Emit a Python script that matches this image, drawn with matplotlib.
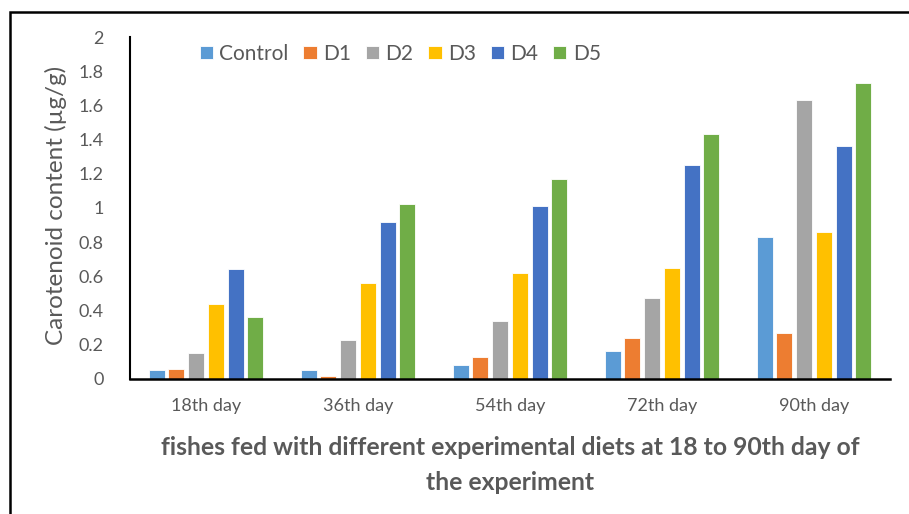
import numpy as np
import matplotlib
matplotlib.use('Agg')
import matplotlib.pyplot as plt
from matplotlib.patches import Rectangle

days = ['18th day', '36th day', '54th day', '72th day', '90th day']
diets = ['Control', 'D1', 'D2', 'D3', 'D4', 'D5']
control = [0.05, 0.05, 0.08, 0.16, 0.83]
d1 = [0.06, 0.015, 0.13, 0.24, 0.27]
d2 = [0.15, 0.23, 0.34, 0.47, 1.63]
d3 = [0.44, 0.56, 0.62, 0.65, 0.86]
d4 = [0.64, 0.92, 1.01, 1.25, 1.36]
d5 = [0.36, 1.02, 1.17, 1.43, 1.73]
colors = ['#5B9BD5', '#ED7D31', '#A5A5A5', '#FFC000', '#4472C4', '#70AD47']

plt.rcParams['font.family'] = ['Lato', 'DejaVu Sans']
grey = '#595959'

fig = plt.figure(figsize=(9.09, 5.14), dpi=100)
ax = fig.add_axes([0.143, 0.263, 0.836, 0.665])

x = np.arange(len(days))
step = 0.13
width = 0.105
for i, (name, vals) in enumerate(zip(diets, [control, d1, d2, d3, d4, d5])):
    offs = (i - 2.5) * step
    ax.bar(x + offs, vals, width, color=colors[i], label=name,
           edgecolor='white', linewidth=0.6)

ax.set_xlim(-0.5, 4.5)
ax.set_ylim(0, 2)
ax.set_yticks(np.arange(0, 2.01, 0.2))
ax.set_yticklabels(['0', '0.2', '0.4', '0.6', '0.8', '1', '1.2', '1.4', '1.6', '1.8', '2'])
ax.set_xticks(x)
ax.set_xticklabels(days)
ax.tick_params(axis='both', length=0, labelsize=13, colors=grey)
ax.tick_params(axis='y', pad=19)
ax.tick_params(axis='x', pad=14)

for s in ['top', 'right']:
    ax.spines[s].set_visible(False)
ax.spines['left'].set_linewidth(1.5)
ax.spines['bottom'].set_linewidth(1.8)

ax.set_ylabel('Carotenoid content (µg/g)', fontsize=17.5, color=grey)
ax.yaxis.set_label_coords(-0.083, 0.506)
ax.set_xlabel('fishes fed with different experimental diets at 18 to 90th day of\nthe experiment',
              fontsize=17.8, fontweight='bold', color=grey, labelpad=16, linespacing=1.6)

ax.legend(ncol=6, loc='upper left', bbox_to_anchor=(0.067, 1.035), frameon=False,
          fontsize=15, handlelength=0.65, handleheight=0.65, handletextpad=0.3,
          columnspacing=0.7, labelcolor=grey)

# outer frame around the chart area
fig.add_artist(Rectangle((10 / 909, -0.1), 1.1, 1 - 12 / 514 + 0.1,
                         transform=fig.transFigure, fill=False,
                         edgecolor='black', linewidth=1.8))

fig.savefig('out.png', dpi=100)
